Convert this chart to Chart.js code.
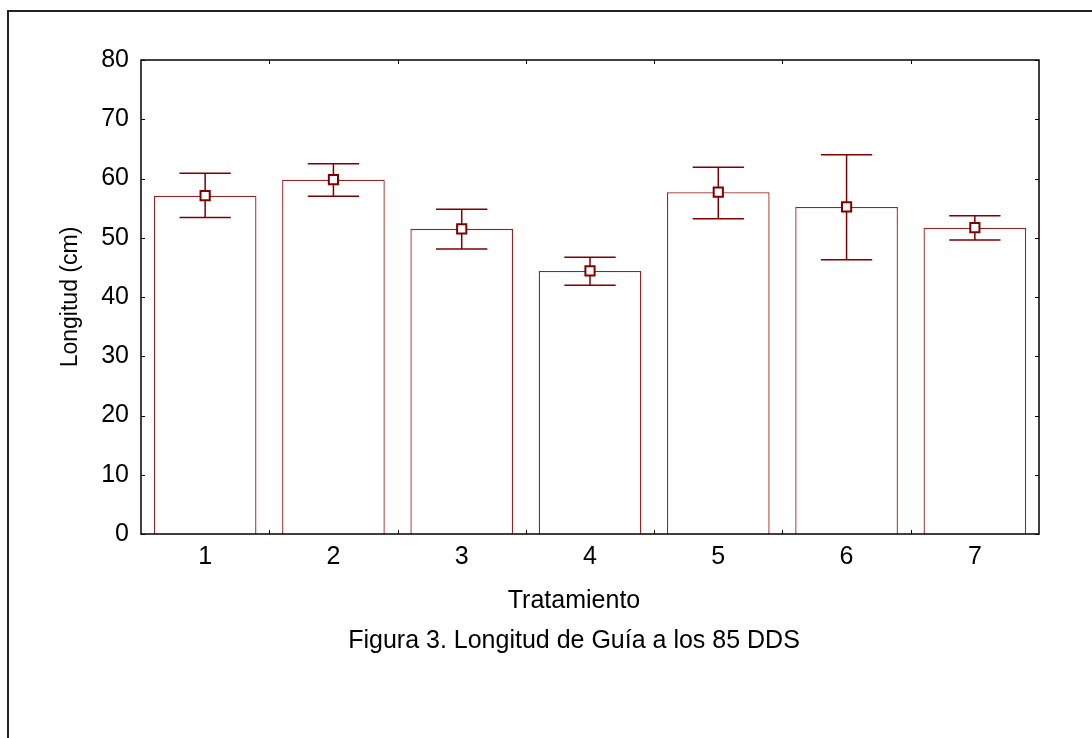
<!DOCTYPE html>
<html>
<head>
<meta charset="utf-8">
<script src="https://cdn.jsdelivr.net/npm/chart.js@4.4.1/dist/chart.umd.min.js"></script>
<style>
  html, body { margin: 0; padding: 0; background: #fff; overflow: hidden; }
  #wrap { width: 1092px; height: 738px; overflow: hidden; }
  canvas { display: block; }
</style>
</head>
<body>
<div id="wrap">
  <canvas id="chart" width="1148" height="738"></canvas>
</div>
<script>
const categories = ['1', '2', '3', '4', '5', '6', '7'];
const means = [57.1, 59.8, 51.5, 44.4, 57.7, 55.2, 51.7];
const upper = [60.9, 62.5, 54.8, 46.7, 61.9, 64.0, 53.7];
const lower = [53.4, 57.0, 48.1, 42.0, 53.2, 46.3, 49.6];
const yTicks = [0, 10, 20, 30, 40, 50, 60, 70, 80];

const xTitle = 'Tratamiento';
const yTitle = 'Longitud (cm)';
const caption = 'Figura 3. Longitud de Guía a los 85 DDS';

const red = '#800000';

Chart.defaults.font.family = '"Liberation Sans", Arial, sans-serif';
Chart.defaults.font.size = 25;
Chart.defaults.color = '#000';

// frame, error bars and the small inward ticks
const extras = {
  id: 'extras',
  beforeDraw(chart) {
    const ctx = chart.ctx;
    ctx.save();
    ctx.strokeStyle = '#222';
    ctx.lineWidth = 2;
    ctx.beginPath();
    ctx.moveTo(8, 800); ctx.lineTo(8, 11); ctx.lineTo(1148, 11);
    ctx.stroke();
    ctx.restore();
  },
  afterDatasetDraw(chart, args) {
    if (args.index !== 0) return;
    const ctx = chart.ctx;
    const y = chart.scales.y;
    ctx.save();
    ctx.strokeStyle = red;
    ctx.lineWidth = 1.5;
    chart.getDatasetMeta(0).data.forEach((bar, i) => {
      const cap = bar.width / 4;
      const yt = y.getPixelForValue(upper[i]);
      const yb = y.getPixelForValue(lower[i]);
      ctx.beginPath();
      ctx.moveTo(bar.x, yt); ctx.lineTo(bar.x, yb);
      ctx.moveTo(bar.x - cap, yt); ctx.lineTo(bar.x + cap, yt);
      ctx.moveTo(bar.x - cap, yb); ctx.lineTo(bar.x + cap, yb);
      ctx.stroke();
    });
    ctx.restore();
  },
  afterDraw(chart) {
    const ctx = chart.ctx;
    const a = chart.chartArea;
    const x = chart.scales.x, y = chart.scales.y;
    ctx.save();
    ctx.strokeStyle = '#000';
    ctx.lineWidth = 1.5;
    ctx.strokeRect(a.left, a.top, a.right - a.left, a.bottom - a.top);
    ctx.lineWidth = 1;
    ctx.beginPath();
    yTicks.forEach(v => {
      const py = Math.round(y.getPixelForValue(v)) + 0.5;
      ctx.moveTo(a.left, py); ctx.lineTo(a.left + 4, py);
      ctx.moveTo(a.right, py); ctx.lineTo(a.right - 4, py);
    });
    for (let i = 0; i < categories.length - 1; i++) {
      const px = Math.round((x.getPixelForValue(i) + x.getPixelForValue(i + 1)) / 2) + 0.5;
      ctx.moveTo(px, a.bottom); ctx.lineTo(px, a.bottom - 4);
      ctx.moveTo(px, a.top); ctx.lineTo(px, a.top + 4);
    }
    ctx.stroke();
    ctx.restore();
  }
};

new Chart(document.getElementById('chart'), {
  type: 'bar',
  data: {
    labels: categories,
    datasets: [{
      label: 'Longitud',
      data: means,
      backgroundColor: '#fff',
      borderColor: '#9b2020',
      borderWidth: 1.3,
      barPercentage: 0.8,
      categoryPercentage: 1,
      order: 2
    }, {
      type: 'line',
      label: 'Media',
      data: means,
      showLine: false,
      pointStyle: 'rect',
      pointRadius: 6.5,
      pointBackgroundColor: '#fff',
      pointBorderColor: red,
      pointBorderWidth: 2,
      order: 1
    }]
  },
  options: {
    responsive: false,
    animation: false,
    devicePixelRatio: 1,
    layout: { padding: { top: 60, left: 0, right: 0, bottom: 82 } },
    scales: {
      x: {
        grid: { display: false, drawTicks: false },
        border: { display: false },
        ticks: { padding: 8, color: '#000' },
        afterFit: s => { s.height = 40; }
      },
      y: {
        min: 0,
        max: 80,
        grid: { display: false, drawTicks: false },
        border: { display: false },
        ticks: { stepSize: 10, padding: 12, color: '#000' },
        title: { display: true, text: yTitle, font: { size: 23 }, padding: { top: 57, bottom: 0 } },
        afterFit: s => { s.width = 141; }
      },
      yR: {
        position: 'right',
        display: true,
        grid: { display: false, drawTicks: false },
        border: { display: false },
        ticks: { display: false },
        afterFit: s => { s.width = 109; }
      }
    },
    plugins: {
      legend: { display: false },
      tooltip: { enabled: false },
      subtitle: {
        display: true,
        text: xTitle,
        position: 'bottom',
        color: '#000',
        font: { size: 25 },
        padding: { top: 12, bottom: 0 }
      },
      title: {
        display: true,
        text: caption,
        position: 'bottom',
        color: '#000',
        font: { size: 25, weight: 'normal' },
        padding: { top: 10, bottom: 0 }
      }
    }
  },
  plugins: [extras]
});
</script>
</body>
</html>
